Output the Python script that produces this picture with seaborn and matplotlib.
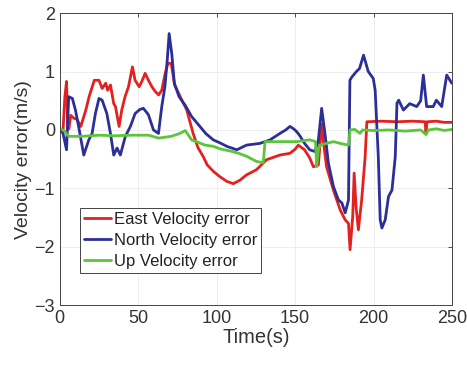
import pandas as pd
import matplotlib
matplotlib.use("Agg")
import matplotlib.pyplot as plt
import seaborn as sns

# === Data ===
east_t = [0, 2, 3.2, 4.3, 5.0, 5.8, 7, 9, 11, 13.4, 16.6, 18.7, 22, 25, 27, 29.3, 30.5, 32.3,
          34.4, 35.5, 36.5, 37.8, 39.5, 41.6, 43.8, 46.3, 48, 50.6, 52.3, 54.4, 56.5, 58.7,
          60.8, 63, 65, 67.2, 68.9, 71, 73.2, 75.7, 77.8, 80.8, 85, 88, 91.5, 94, 97.9, 102,
          106.4, 110.6, 114.9, 119, 125.4, 131.8, 136, 140.3, 146.7, 150, 152, 156, 159.3,
          161.6, 164.8, 166.9, 168, 170, 174.4, 178.7, 181.9, 184, 185, 186.7, 187.6, 188.8,
          190.3, 192.4, 194.6, 195.7, 205, 215, 225, 232.8, 233.4, 234, 240, 245, 250]
east_v = [0.02, -0.05, 0.55, 0.83, 0.1, 0.02, 0.25, 0.2, 0.18, 0.06, 0.34, 0.57, 0.85, 0.85,
          0.71, 0.8, 0.68, 0.77, 0.45, 0.4, 0.25, 0.06, 0.34, 0.57, 0.74, 1.08, 0.85, 0.74,
          0.83, 0.97, 0.85, 0.74, 0.66, 0.6, 0.68, 0.97, 1.14, 1.14, 0.77, 0.63, 0.51, 0.35,
          -0.06, -0.3, -0.46, -0.6, -0.71, -0.8, -0.88, -0.92, -0.86, -0.77, -0.68, -0.51,
          -0.47, -0.43, -0.4, -0.33, -0.26, -0.34, -0.48, -0.63, -0.6, 0.1, -0.2, -0.63,
          -1.03, -1.37, -1.54, -1.6, -2.05, -1.48, -0.74, -1.31, -1.71, -1.2, -0.46, 0.14,
          0.15, 0.14, 0.15, 0.14, -0.05, 0.14, 0.15, 0.13, 0.13]

north_t = [0, 2, 4.3, 5.7, 8, 10, 12, 15.3, 18.5, 20.6, 22.7, 25, 27, 30, 32.3, 34.4, 36.5,
           38.6, 41.8, 45, 48, 51, 53.3, 56.5, 59.7, 62.9, 65, 67, 68.5, 69.7, 71.4, 73, 76,
           80, 84, 89.3, 93, 97.8, 102, 106.4, 112.8, 119, 127.6, 134, 140.3, 144, 146.7,
           149, 151, 153, 156, 159.3, 162.7, 164.8, 166.9, 169, 171.2, 174.4, 177.6, 179.8,
           181.9, 184, 184.9, 186, 189, 191, 193.6, 195, 196.6, 199.8, 201, 203, 204.2,
           205.3, 207.4, 209.5, 211.7, 213.8, 214.9, 216, 219, 223, 227.5, 230, 231.7,
           233.8, 238, 240, 243.4, 246.6, 249.8]
north_v = [0.0, -0.05, -0.34, 0.57, 0.54, 0.34, 0.06, -0.43, -0.17, -0.06, 0.28, 0.54, 0.51,
           0.28, -0.06, -0.43, -0.31, -0.43, -0.11, 0.06, 0.28, 0.35, 0.37, 0.26, 0.0, -0.06,
           0.4, 0.74, 1.2, 1.65, 1.3, 0.8, 0.57, 0.42, 0.23, 0.06, -0.06, -0.17, -0.22, -0.28,
           -0.34, -0.26, -0.23, -0.17, -0.06, 0.0, 0.06, 0.02, -0.03, -0.1, -0.23, -0.34,
           -0.37, -0.17, 0.37, -0.06, -0.57, -0.97, -1.2, -1.25, -1.42, -1.2, 0.85, 0.9, 1.0,
           1.05, 1.28, 1.15, 1.0, 0.88, 0.68, -0.46, -1.54, -1.68, -1.54, -1.14, -1.03,
           -0.46, 0.46, 0.51, 0.34, 0.45, 0.4, 0.5, 0.94, 0.4, 0.4, 0.51, 0.4, 0.94, 0.8]

up_t = [0, 3, 5.7, 14, 25, 35, 46, 56.5, 63, 71, 76.5, 80, 84, 87, 92.6, 97.8, 103, 108.5,
        114, 119, 125.4, 129.7, 130.8, 140.3, 151, 159.3, 163, 163.7, 164.8, 166, 170,
        174.4, 178.7, 184, 185, 188, 191.3, 193, 200, 210, 220, 230, 233.4, 235, 240, 245, 250]
up_v = [0.03, -0.02, -0.11, -0.11, -0.09, -0.1, -0.09, -0.09, -0.14, -0.11, -0.06, -0.01,
        -0.17, -0.2, -0.26, -0.28, -0.33, -0.36, -0.4, -0.45, -0.54, -0.56, -0.2, -0.2, -0.2,
        -0.17, -0.2, -0.63, -0.34, -0.26, -0.23, -0.2, -0.23, -0.26, 0.0, 0.01, -0.06, 0.0,
        -0.01, 0.0, -0.02, 0.0, -0.08, 0.0, 0.02, -0.01, 0.01]

series = [
    ("East Velocity error", east_t, east_v, "#e3211f"),
    ("North Velocity error", north_t, north_v, "#2b2f98"),
    ("Up Velocity error", up_t, up_v, "#5cc53a"),
]

sns.set_style("white")
plt.rcParams["font.family"] = ["Liberation Sans", "DejaVu Sans"]

fig = plt.figure(figsize=(4.67, 3.65), dpi=100)
ax = fig.add_axes([0.128, 0.164, 0.84, 0.80])

for name, t, v, color in series:
    df = pd.DataFrame({"Time": t, "Value": v})
    sns.lineplot(data=df, x="Time", y="Value", color=color, linewidth=2.0,
                 label=name, sort=False, estimator=None, ax=ax)

ax.set_xlim(0, 250)
ax.set_ylim(-3, 2)
ax.set_xticks([0, 50, 100, 150, 200, 250])
ax.set_yticks([-3, -2, -1, 0, 1, 2])
ax.grid(True, color="#ebebeb", linewidth=0.6)
ax.tick_params(direction="in", length=3, width=0.6, labelsize=13, colors="#333333",
               top=True, right=True)
for sp in ax.spines.values():
    sp.set_color("#444444")
    sp.set_linewidth(0.7)

ax.set_xlabel("Time(s)", fontsize=14.5, color="#333333", labelpad=1)
ax.set_ylabel("Velocity error(m/s)", fontsize=14, color="#333333", labelpad=2)

leg = ax.legend(loc="lower left", bbox_to_anchor=(0.051, 0.11), borderaxespad=0,
                fontsize=12, handlelength=1.6, handletextpad=0.2, labelspacing=0.35,
                borderpad=0.25, fancybox=False, framealpha=1)
leg.get_frame().set_edgecolor("#444444")
leg.get_frame().set_linewidth(0.7)
for txt in leg.get_texts():
    txt.set_color("#222222")

fig.savefig("out.png", dpi=100)
